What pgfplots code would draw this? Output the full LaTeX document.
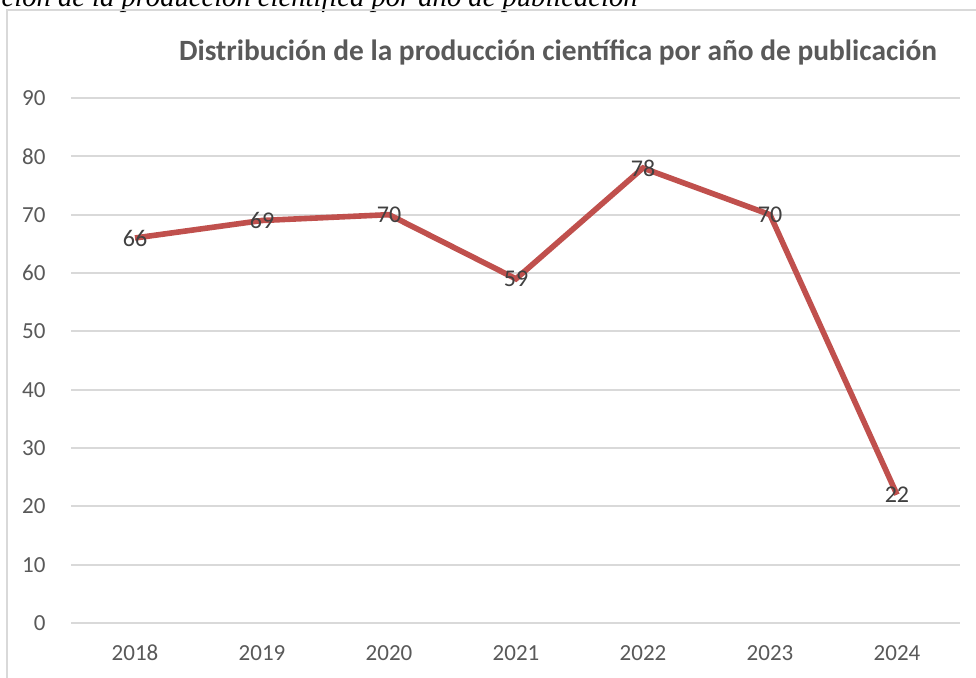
\documentclass[border=0pt]{standalone}
\usepackage{pgfplots}
\pgfplotsset{compat=1.18}
\usepackage{fontspec}
\setmainfont{Carlito}
\newfontfamily\tnr{Liberation Serif}
\definecolor{linered}{HTML}{C0504D}
\definecolor{gridgray}{HTML}{D9D9D9}
\definecolor{txtgray}{HTML}{595959}
\definecolor{lblgray}{HTML}{404040}
\begin{document}
\begin{tikzpicture}
\path[use as bounding box] (0,0) rectangle (488pt,339pt);
\clip (0,0) rectangle (488pt,339pt);
\fill[white] (0,0) rectangle (488pt,339pt);
\node[anchor=base east, font=\tnr\itshape\fontsize{14.3}{16}\selectfont, inner sep=0pt] at (319pt,335.5pt) {Figura 1. Distribución de la producción científica por año de publicación};
\draw[gridgray, line width=0.8pt] (3.5pt,-10pt) rectangle (520pt,334pt);
\begin{axis}[
  at={(35.75pt,27.5pt)}, anchor=south west,
  scale only axis, width=444.5pt, height=262.5pt,
  xmin=-0.5, xmax=6.5, ymin=0, ymax=90,
  xtick={0,...,6}, xticklabels={2018,2019,2020,2021,2022,2023,2024},
  ytick={0,10,...,90},
  axis line style={draw=none}, major tick length=0pt,
  ymajorgrids, grid style={gridgray, line width=0.9pt},
  tick label style={font=\fontsize{11.5}{13}\selectfont, text=txtgray},
  /pgf/number format/assume math mode=true,
  yticklabel style={xshift=-9.5pt},
  xticklabel style={anchor=base, yshift=-19pt},
  clip=false,
  nodes near coords,
  every node near coord/.append style={anchor=center, font=\fontsize{12}{14}\selectfont, text=lblgray, /pgf/number format/assume math mode=true},
]
\addplot[linered, line width=2.8pt, mark=none] coordinates {(0,66) (1,69) (2,70) (3,59) (4,78) (5,70) (6,22)};
\end{axis}
\node[font=\bfseries\fontsize{14.7}{17}\selectfont, text=txtgray] at (279pt,313pt) {Distribución de la producción científica por año de publicación};
\end{tikzpicture}
\end{document}
